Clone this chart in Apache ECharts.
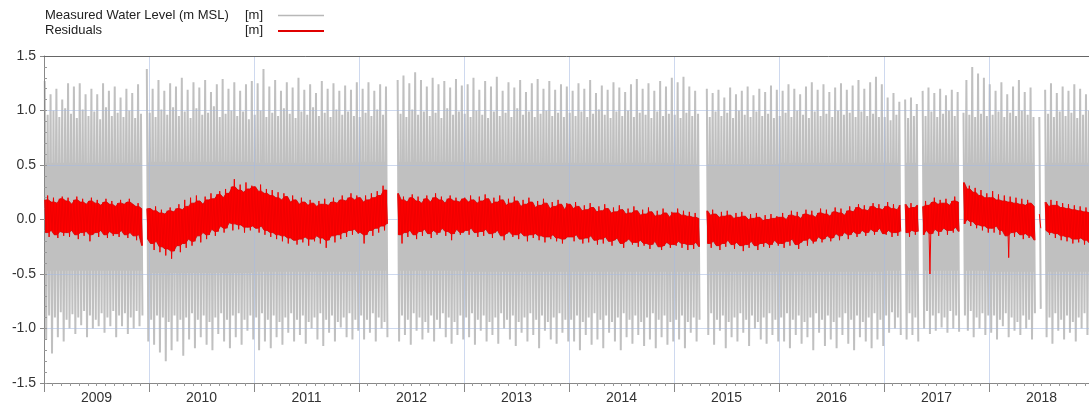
<!DOCTYPE html>
<html>
<head>
<meta charset="utf-8">
<script src="https://cdn.jsdelivr.net/npm/echarts@6/dist/echarts.min.js"></script>
<style>
html,body{margin:0;padding:0;background:#fff;}
#chart{width:1089px;height:410px;}
</style>
</head>
<body>
<div id="chart"></div>
<script>
// ---- data (cm); one sample ~ every 10 days, 36 per year, 2009..2018; null = no data ----
const startYear = 2009;
const samplesPerYear = 36;
const yearLabels = ['2009','2010','2011','2012','2013','2014','2015','2016','2017','2018'];
const legendNames = ['Measured Water Level (m MSL)', 'Residuals'];
const legendUnits = ['[m]', '[m]'];

// highest / lowest measured water level in each sample
const waterHigh = [
 127,96,115,100,120,94,110,102,125,97,122,93,125,101,115,95,120,99,115,92,125,103,118,95,122,98,112,94,120,100,116,93,124,97,null,138,
 98,120,94,128,101,118,96,125,103,122,95,130,99,119,93,126,102,121,96,128,98,117,104,124,94,129,97,120,100,126,95,118,99,124,92,127,
 96,125,100,138,94,122,98,128,95,118,102,126,97,121,93,130,99,119,96,124,103,116,95,127,98,120,94,125,101,118,96,123,99,119,95,126,
 94,120,98,126,95,118,101,124,96,122,null,null,null,128,97,132,94,125,101,135,96,128,99,122,95,130,98,124,93,127,102,121,96,129,99,123,
 97,124,94,130,100,119,96,127,93,122,99,131,95,118,98,126,94,121,102,128,96,117,99,125,94,129,97,120,100,127,95,119,98,124,94,122,
 98,118,95,125,99,120,94,128,97,116,101,123,96,119,93,126,99,121,95,117,100,124,94,129,98,120,96,125,93,118,99,127,95,122,97,130,
 96,126,93,131,98,122,95,118,97,null,null,120,94,116,99,119,95,112,98,121,93,115,100,118,96,122,94,114,99,120,95,117,97,123,93,119,
 95,118,98,124,94,120,100,115,96,122,93,126,99,119,95,124,97,117,94,121,100,125,96,119,98,123,94,128,99,120,95,126,97,131,94,124,
 94,112,91,116,96,108,null,110,93,112,95,106,null,118,95,121,99,116,94,120,97,114,100,119,95,117,null,98,128,96,140,94,134,97,130,95,
 124,96,118,99,126,94,115,98,122,95,128,100,117,96,121,94,null,94,null,119,97,125,94,116,99,122,95,118,98,124,93,120,96,115,100,121
];
const waterLow = [
 -110,-88,-123,-90,-108,-85,-112,-92,-100,-87,-105,-90,-97,-84,-108,-88,-100,-92,-98,-86,-104,-90,-98,-84,-108,-88,-98,-86,-105,-90,-100,-84,-98,-88,null,-112,
 -92,-115,-88,-122,-90,-130,-94,-120,-88,-112,-92,-125,-90,-110,-86,-118,-92,-108,-88,-115,-94,-120,-90,-105,-86,-112,-92,-118,-88,-108,-86,-115,-92,-102,-88,-110,
 -90,-120,-86,-112,-92,-118,-88,-108,-94,-115,-90,-104,-86,-112,-92,-106,-88,-114,-94,-100,-90,-110,-86,-116,-92,-104,-88,-112,-94,-99,-90,-108,-86,-110,-92,-102,
 -88,-110,-92,-104,-86,-112,-90,-100,-94,-108,null,null,null,-112,-88,-106,-92,-115,-86,-102,-90,-110,-94,-104,-88,-112,-92,-100,-86,-108,-90,-114,-94,-106,-88,-110,
 -90,-108,-86,-115,-92,-102,-88,-112,-94,-106,-90,-114,-86,-100,-92,-110,-88,-116,-94,-104,-90,-112,-86,-106,-92,-118,-88,-102,-94,-110,-90,-114,-86,-104,-92,-112,
 -92,-112,-88,-120,-94,-106,-90,-115,-86,-110,-92,-118,-88,-104,-94,-112,-90,-120,-86,-108,-92,-114,-88,-106,-94,-116,-90,-110,-86,-118,-92,-108,-88,-115,-94,-112,
 -92,-110,-88,-118,-94,-104,-90,-112,-92,null,null,-106,-86,-115,-92,-102,-88,-118,-94,-108,-90,-112,-86,-104,-92,-116,-88,-100,-94,-110,-90,-114,-86,-106,-92,-112,
 -90,-112,-86,-118,-92,-106,-88,-114,-94,-108,-90,-120,-86,-104,-92,-116,-88,-110,-94,-118,-90,-106,-86,-114,-92,-120,-88,-108,-94,-112,-90,-118,-86,-110,-92,-116,
 -88,-104,-85,-100,-90,-106,null,-110,-86,-106,-90,-112,null,-100,-84,-105,-88,-102,-86,-99,-90,-104,-84,-100,-88,-103,null,-88,-102,-84,-108,-90,-100,-86,-106,-88,
 -104,-88,-110,-92,-98,-86,-108,-90,-102,-94,-106,-88,-100,-92,-110,-86,null,-82,null,-108,-90,-114,-86,-102,-92,-110,-88,-104,-94,-112,-90,-100,-86,-106,-92,-114
];

// per year: level range that is always covered by the tide (solid band)
const neapHigh = [52, 53, 52, 53, 52, 52, 51, 52, 52, 52];
const neapLow = [-47, -49, -48, -47, -48, -48, -48, -48, -47, -48];

// highest / lowest residual in each sample
const residHigh = [
 18,22,16,20,15,19,21,17,20,14,18,21,16,19,14,17,20,15,18,13,16,19,14,17,12,15,18,14,16,19,14,12,15,10,null,10,
 10,8,12,6,9,5,8,11,7,10,14,9,18,12,20,15,22,17,14,21,18,24,19,23,26,20,28,24,30,37,27,32,25,34,28,31,
 30,26,32,24,28,22,27,20,25,18,24,21,16,22,18,14,20,16,13,18,15,12,17,14,19,13,16,20,15,18,22,17,20,24,18,22,
 20,16,22,18,24,20,26,22,31,27,null,null,null,24,18,21,16,20,23,17,21,15,19,22,16,20,24,18,21,15,19,22,17,20,16,19,
 20,16,22,18,15,21,17,23,19,14,20,16,22,18,13,19,15,21,17,12,18,14,20,16,11,17,13,19,15,10,16,12,18,14,9,15,
 14,10,16,12,8,13,9,15,11,7,12,8,14,10,6,11,7,13,9,5,10,6,12,8,4,9,5,11,7,3,8,4,10,6,2,7,
 6,10,4,8,3,7,2,6,1,null,null,8,4,9,5,2,7,3,8,4,1,6,2,7,3,0,5,1,6,2,-1,4,0,5,1,3,
 2,6,0,4,8,3,7,1,5,9,4,8,2,6,10,5,9,3,7,11,6,10,4,8,12,7,11,14,9,13,8,12,15,10,14,9,
 12,16,10,14,9,13,null,14,10,15,11,13,null,12,17,13,16,20,14,18,15,19,13,17,21,16,null,34,28,31,25,29,22,27,20,24,
 20,26,18,23,17,22,16,21,15,20,14,19,13,18,15,12,null,5,null,16,12,18,13,17,11,15,10,14,9,13,8,12,7,11,6,10
];
const residLow = [
 -12,-16,-10,-14,-17,-11,-15,-12,-16,-10,-14,-18,-12,-15,-11,-20,-14,-12,-16,-10,-14,-17,-11,-15,-13,-16,-10,-14,-17,-12,-15,-19,-14,-24,null,-18,
 -22,-28,-20,-30,-25,-33,-27,-36,-29,-24,-30,-22,-26,-18,-24,-20,-15,-21,-12,-18,-14,-9,-15,-11,-6,-12,-8,-3,-10,-4,-9,-5,-12,-7,-10,-6,
 -8,-12,-6,-14,-10,-16,-12,-18,-14,-20,-15,-22,-17,-19,-23,-18,-21,-16,-24,-18,-20,-15,-22,-17,-26,-19,-15,-21,-14,-18,-12,-16,-10,-14,-9,-13,
 -12,-22,-14,-10,-15,-8,-12,-6,-10,-4,null,null,null,-14,-22,-12,-16,-10,-14,-18,-11,-15,-9,-13,-17,-10,-14,-12,-8,-15,-11,-19,-13,-9,-14,-12,
 -10,-14,-8,-12,-16,-11,-15,-9,-13,-17,-12,-10,-15,-19,-13,-11,-16,-14,-18,-12,-15,-20,-14,-17,-13,-19,-15,-21,-16,-18,-14,-20,-17,-22,-18,-16,
 -16,-20,-14,-18,-22,-17,-21,-15,-19,-23,-18,-22,-16,-20,-24,-19,-17,-22,-26,-20,-18,-23,-21,-25,-19,-24,-22,-27,-23,-20,-25,-28,-24,-21,-26,-23,
 -24,-20,-26,-22,-28,-23,-27,-21,-25,null,null,-22,-26,-20,-24,-28,-22,-25,-19,-23,-27,-21,-24,-29,-23,-26,-20,-24,-28,-22,-25,-21,-26,-23,-19,-24,
 -22,-26,-20,-24,-18,-23,-27,-21,-19,-24,-17,-22,-20,-16,-21,-18,-15,-20,-17,-13,-19,-15,-12,-18,-14,-11,-16,-13,-10,-15,-12,-9,-14,-11,-8,-13,
 -14,-10,-16,-12,-15,-11,null,-12,-16,-10,-14,-11,null,-14,-10,-50,-13,-9,-15,-11,-8,-14,-10,-12,-7,-11,null,-4,0,-6,-2,-8,-5,-10,-6,-12,
 -8,-12,-6,-14,-10,-15,-35,-12,-16,-11,-14,-18,-13,-17,-15,-19,null,-8,null,-10,-14,-12,-17,-13,-19,-15,-20,-16,-22,-18,-21,-17,-23,-19,-22,-24
];

// ---- helpers ----
function sampleTime(i) { return startYear + (i + 0.5) / samplesPerYear; }

// each sample drawn as its high followed by its low (a line through the extremes)
function extremesLine(hi, lo) {
  const pts = [];
  const half = 0.25 / samplesPerYear;
  for (let i = 0; i < hi.length; i++) {
    const t = sampleTime(i);
    if (hi[i] == null || lo[i] == null) { pts.push([t, null]); continue; }
    pts.push([t - half, hi[i] / 100]);
    pts.push([t + half, lo[i] / 100]);
  }
  return pts;
}

// contiguous runs of samples with data
function runsOf(hi) {
  const runs = [];
  let s = -1;
  for (let i = 0; i <= hi.length; i++) {
    const ok = i < hi.length && hi[i] != null;
    if (ok && s < 0) s = i;
    if (!ok && s >= 0) { if (i - 1 > s) runs.push([s, i - 1]); s = -1; }
  }
  return runs;
}

// residual band edge: single-sample outliers are left to the line
function clipEdge(arr, i, s, e, upper) {
  const a = arr[Math.max(s, i - 1)], b = arr[i], c = arr[Math.min(e, i + 1)];
  return upper ? Math.min(b, Math.max(a, c)) : Math.max(b, Math.min(a, c));
}

function bandSeries(runs, topOf, botOf, color, stroke, z) {
  return {
    type: 'custom', z: z, silent: true, clip: true,
    data: runs.map(r => [sampleTime(r[0]), sampleTime(r[1])]),
    encode: {x: [0, 1]},
    renderItem: function (params, api) {
      const r = runs[params.dataIndex];
      const top = [], bot = [];
      for (let i = r[0]; i <= r[1]; i++) {
        const t = sampleTime(i);
        top.push(api.coord([t, topOf(i, r) / 100]));
        bot.push(api.coord([t, botOf(i, r) / 100]));
      }
      return {
        type: 'polygon',
        shape: {points: top.concat(bot.reverse())},
        style: {fill: color, stroke: stroke || null, lineWidth: stroke ? 0.8 : 0}
      };
    }
  };
}

const FONT = '"Liberation Sans", Arial, Helvetica, sans-serif';
const gridColor = 'rgba(165,185,225,0.55)';
const greyColor = '#c0c0c0';
const redColor = '#ff0000';
const waterRuns = runsOf(waterHigh);
const residRuns = runsOf(residHigh);
const yearOf = i => Math.floor(i / samplesPerYear);

const chart = echarts.init(document.getElementById('chart'), null, {renderer: 'canvas'});
chart.setOption({
  animation: false,
  backgroundColor: '#ffffff',
  textStyle: {fontFamily: FONT},
  legend: {show: false},
  graphic: [
    {type: 'text', x: 45, y: 15, silent: true,
     style: {text: legendNames[0], fontSize: 13, fontFamily: FONT, fill: '#222', align: 'left', verticalAlign: 'middle'}},
    {type: 'text', x: 263, y: 15, silent: true,
     style: {text: legendUnits[0], fontSize: 13, fontFamily: FONT, fill: '#222', align: 'right', verticalAlign: 'middle'}},
    {type: 'line', silent: true, shape: {x1: 278, y1: 15.5, x2: 324, y2: 15.5}, style: {stroke: '#b8b8b8', lineWidth: 1.5}},
    {type: 'text', x: 45, y: 30, silent: true,
     style: {text: legendNames[1], fontSize: 13, fontFamily: FONT, fill: '#222', align: 'left', verticalAlign: 'middle'}},
    {type: 'text', x: 263, y: 30, silent: true,
     style: {text: legendUnits[1], fontSize: 13, fontFamily: FONT, fill: '#222', align: 'right', verticalAlign: 'middle'}},
    {type: 'line', silent: true, shape: {x1: 278, y1: 31, x2: 324, y2: 31}, style: {stroke: '#e00000', lineWidth: 2}}
  ],
  grid: {left: 44, right: -5, top: 56, bottom: 27, show: false, outerBoundsMode: 'none', containLabel: false},
  xAxis: [{
    type: 'value', min: 2009, max: 2019, interval: 1, z: 3,
    axisLine: {show: true, onZero: false, lineStyle: {color: '#888'}},
    axisTick: {show: true, length: 9, lineStyle: {color: '#888'}},
    minorTick: {show: true, splitNumber: 12, length: 3, lineStyle: {color: '#999'}},
    splitLine: {show: true, lineStyle: {color: gridColor, width: 1}},
    axisLabel: {
      showMaxLabel: false, margin: 8, fontSize: 14, color: '#333', fontFamily: FONT,
      align: 'center', padding: [0, 0, 0, 105],
      formatter: function (v) { const k = Math.round(v) - startYear; return yearLabels[k] || ''; }
    }
  }, {
    type: 'value', position: 'top', min: 2009, max: 2019, z: 4,
    axisLine: {show: true, onZero: false, lineStyle: {color: '#666', width: 1}},
    axisTick: {show: false}, axisLabel: {show: false}, splitLine: {show: false}
  }],
  yAxis: [{
    type: 'value', min: -1.5, max: 1.5, interval: 0.5, z: 3,
    axisLine: {show: true, onZero: false, lineStyle: {color: '#888'}},
    axisTick: {show: true, length: 4, lineStyle: {color: '#888'}},
    splitLine: {show: true, lineStyle: {color: gridColor, width: 1}},
    axisLabel: {margin: 8, fontSize: 14, color: '#333', fontFamily: FONT,
      formatter: function (v) { return v.toFixed(1); }}
  }, {
    type: 'value', min: -1.5, max: 1.5, interval: 0.1, position: 'left', offset: 0, z: 3,
    axisLine: {show: false},
    axisTick: {show: true, inside: true, length: 3, lineStyle: {color: '#999'}},
    axisLabel: {show: false},
    splitLine: {show: false}
  }],
  series: [
    Object.assign(bandSeries(waterRuns,
      (i) => neapHigh[yearOf(i)], (i) => neapLow[yearOf(i)], greyColor, null, 1), {name: 'waterCore'}),
    {
      name: legendNames[0], type: 'line', xAxisIndex: 0, yAxisIndex: 0,
      data: extremesLine(waterHigh, waterLow),
      symbol: 'none', connectNulls: false, z: 1, silent: true,
      lineStyle: {color: greyColor, width: 2}
    },
    Object.assign(bandSeries(residRuns,
      (i, r) => clipEdge(residHigh, i, r[0], r[1], true),
      (i, r) => clipEdge(residLow, i, r[0], r[1], false), redColor, '#d40000', 5), {name: 'residBand'}),
    {
      name: legendNames[1], type: 'line', xAxisIndex: 0, yAxisIndex: 0,
      data: extremesLine(residHigh, residLow),
      symbol: 'none', connectNulls: false, z: 6, silent: true,
      lineStyle: {color: '#f00000', width: 1}
    }
  ]
});
</script>
</body>
</html>
